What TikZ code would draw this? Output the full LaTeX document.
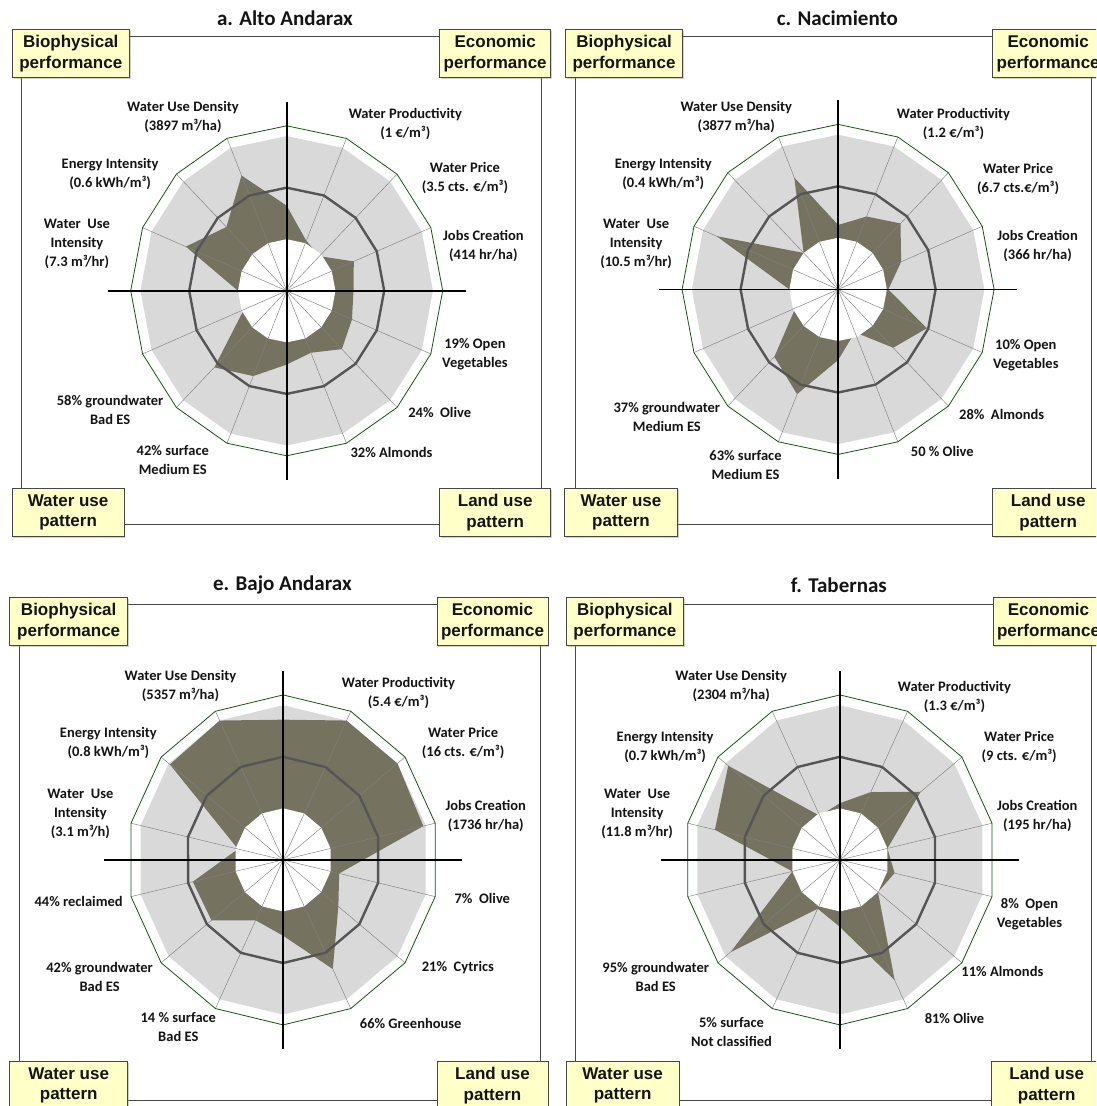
\documentclass[tikz,border=0pt]{standalone}
\usepackage{fontspec}
\setmainfont{Carlito}
\newfontfamily\boxfont{Liberation Sans}
\usetikzlibrary{shadows}

\definecolor{boxfill}{RGB}{255,255,200}
\definecolor{boxline}{RGB}{70,70,70}
\definecolor{gridgray}{RGB}{217,217,217}
\definecolor{dataolive}{RGB}{118,114,96}
\definecolor{ringgray}{RGB}{85,85,85}
\definecolor{spokegray}{RGB}{128,128,128}
\definecolor{outergreen}{RGB}{30,80,30}
\definecolor{txt}{RGB}{20,20,20}

\tikzset{
  panelbox/.style={draw=boxline, line width=0.9pt, fill=boxfill, minimum height=48pt,
    inner sep=0pt, align=center, text=txt,
    font=\boxfont\bfseries\fontsize{17}{20.5}\selectfont,
    drop shadow={shadow xshift=1.3pt, shadow yshift=-1.3pt, opacity=0.35}},
  lbl/.style={align=center, inner sep=0pt, text=txt,
    font=\bfseries\fontsize{14.5}{19}\selectfont},
  ttl/.style={inner sep=0pt, text=txt, font=\bfseries\fontsize{21}{24}\selectfont},
  frameline/.style={draw=boxline, line width=0.8pt},
}

% radar chart: #1 centre, #2 number of spokes, #3 value on the top spoke,
% #4 remaining values clockwise (scale: core 1, ring 2, band 3, rim 3.2)
\newcommand\radarplot[4]{%
  \begin{scope}[shift={#1}, x=48.75pt, y=51.56pt]
    \pgfmathsetmacro\rdstep{360/#2}
    \fill[gridgray] (90:3) \foreach \k in {1,...,#2} {-- ({90-\rdstep*\k}:3)} -- cycle;
    \fill[dataolive] (90:#3) \foreach \v [count=\k] in {#4} {-- ({90-\rdstep*\k}:\v)} -- cycle;
    \fill[white] (90:1) \foreach \k in {1,...,#2} {-- ({90-\rdstep*\k}:1)} -- cycle;
    \foreach \k in {1,...,#2} \draw[spokegray, line width=0.45pt] (0,0) -- ({90-\rdstep*\k}:3.2);
    \draw[outergreen, line width=0.8pt, line join=round]
      (90:3.2) \foreach \k in {1,...,#2} {-- ({90-\rdstep*\k}:3.2)} -- cycle;
    \draw[ringgray, line width=2.4pt, line join=round]
      (90:2) \foreach \k in {1,...,#2} {-- ({90-\rdstep*\k}:2)} -- cycle;
    \draw[black, line width=1.8pt] (0,-3.67) -- (0,3.67);
    \draw[black, line width=1.8pt] (-3.67,0) -- (3.67,0);
  \end{scope}}

\begin{document}
\begin{tikzpicture}[x=1pt, y=-1pt]
\useasboundingbox (0,0) rectangle (1096,1106);
\clip (0,0) rectangle (1096,1106);
\fill[white] (0,0) rectangle (1096,1106);

% ---------------- a. Alto Andarax ----------------
\coordinate (a-nw) at (21.7,36.7);
\coordinate (a-se) at (541.8,524.3);
\draw[frameline] (a-nw) rectangle (a-se);
\radarplot{(286.7,290.8)}{16}{1.65}{1.05,0.95,1.49,1.37,1.45,1.6,1.3,1.43,1.79,2.1,0.95,1.0,2.24,1.75,2.42}
\node[ttl] (a-title) at (284.9,18.2) {a. Alto Andarax};
\node[panelbox, minimum width=117pt] (a-bio) at (70.75,53.65) {Biophysical\\performance};
\node[panelbox, minimum width=111pt] (a-eco) at (495.2,53.65) {Economic\\performance};
\node[panelbox, minimum width=112pt] (a-wat) at (68.1,512.55) {Water use\\pattern};
\node[panelbox, minimum width=111pt] (a-land) at (495.2,512.55) {Land use\\pattern};
\node[lbl] (a-wud) at (183,117.1) {Water Use Density\\(3897 m³/ha)};
\node[lbl] (a-wp) at (405.4,123.9) {Water Productivity\\(1 €/m³)};
\node[lbl] (a-wpr) at (464.9,177.8) {Water Price\\(3.5 cts. €/m³)};
\node[lbl] (a-job) at (483.4,246.2) {Jobs Creation\\(414 hr/ha)};
\node[lbl] (a-veg) at (475,354.4) {19\% Open\\Vegetables};
\node[lbl] (a-oli) at (439.7,412.4) {24\%~~Olive};
\node[lbl] (a-alm) at (391.5,452.6) {32\% Almonds};
\node[lbl] (a-sur) at (172.8,460) {42\% surface\\Medium ES};
\node[lbl] (a-gro) at (110.1,410.2) {58\% groundwater\\Bad ES};
\node[lbl] (a-wui) at (76.9,243.6) {Water~~Use\\Intensity\\(7.3 m³/hr)};
\node[lbl] (a-ei) at (110.1,173.9) {Energy Intensity\\(0.6 kWh/m³)};

% ---------------- c. Nacimiento ----------------
\coordinate (c-nw) at (575.3,36.7);
\coordinate (c-se) at (1091.7,524.3);
\draw[frameline] (c-nw) rectangle (c-se);
\radarplot{(838.1,289.4)}{16}{1.25}{1.53,1.81,1.40,1.03,1.97,1.6,0.9,1.37,2.2,1.85,0.95,1.0,2.7,1.0,2.35}
\node[ttl] (c-title) at (837.4,18.2) {c. Nacimiento};
\node[panelbox, minimum width=117pt] (c-bio) at (624.05,53.65) {Biophysical\\performance};
\node[panelbox, minimum width=111pt] (c-eco) at (1048.2,53.65) {Economic\\performance};
\node[panelbox, minimum width=112.5pt] (c-wat) at (621,512.55) {Water use\\pattern};
\node[panelbox, minimum width=111pt] (c-land) at (1048.2,512.55) {Land use\\pattern};
\node[lbl] (c-wud) at (736.3,117.1) {Water Use Density\\(3877 m³/ha)};
\node[lbl] (c-wp) at (953.5,123.9) {Water Productivity\\(1.2 €/m³)};
\node[lbl] (c-wpr) at (1018.1,178.6) {Water Price\\(6.7 cts.€/m³)};
\node[lbl] (c-job) at (1037.6,246.2) {Jobs Creation\\(366 hr/ha)};
\node[lbl] (c-veg) at (1025.8,355.1) {10\% Open\\Vegetables};
\node[lbl] (c-alm) at (1001.7,414.9) {28\%~~Almonds};
\node[lbl] (c-oli) at (942.3,451.9) {50 \% Olive};
\node[lbl] (c-sur) at (745.5,465.4) {63\% surface\\Medium ES};
\node[lbl] (c-gro) at (666.8,417.2) {37\% groundwater\\Medium ES};
\node[lbl] (c-wui) at (636.1,243.6) {Water~~Use\\Intensity\\(10.5 m³/hr)};
\node[lbl] (c-ei) at (663.3,173.9) {Energy Intensity\\(0.4 kWh/m³)};

% ---------------- e. Bajo Andarax ----------------
\coordinate (e-nw) at (19.2,604.7);
\coordinate (e-se) at (540,1100);
\draw[frameline] (e-nw) rectangle (e-se);
\radarplot{(283.1,859.9)}{14}{2.72}{3.0,3.0,2.95,1.18,1.45,2.35,1.47,1.3,1.88,1.9,0.95,2.97,3.0}
\node[ttl] (e-title) at (282.4,585.2) {e. Bajo Andarax};
\node[panelbox, minimum width=117.8pt] (e-bio) at (68.7,621.65) {Biophysical\\performance};
\node[panelbox, minimum width=111pt] (e-eco) at (492.5,621.65) {Economic\\performance};
\node[panelbox, minimum width=117.8pt] (e-wat) at (68.7,1085.55) {Water use\\pattern};
\node[panelbox, minimum width=111pt] (e-land) at (492.5,1085.55) {Land use\\pattern};
\node[lbl] (e-wud) at (180.5,686) {Water Use Density\\(5357 m³/ha)};
\node[lbl] (e-wp) at (398.5,692.7) {Water Productivity\\(5.4 €/m³)};
\node[lbl] (e-wpr) at (463.1,743) {Water Price\\(16 cts. €/m³)};
\node[lbl] (e-job) at (485.8,816) {Jobs Creation\\(1736 hr/ha)};
\node[lbl] (e-oli) at (482.3,898) {7\%~~Olive};
\node[lbl] (e-cyt) at (457.9,967.9) {21\%~~Cytrics};
\node[lbl] (e-gre) at (410.7,1023.1) {66\% Greenhouse};
\node[lbl] (e-sur) at (178.3,1027.2) {14 \% surface\\Bad ES};
\node[lbl] (e-gro) at (99.6,976.8) {42\% groundwater\\Bad ES};
\node[lbl] (e-rec) at (78.6,901.5) {44\% reclaimed};
\node[lbl] (e-wui) at (80.4,813.4) {Water~~Use\\Intensity\\(3.1 m³/h)};
\node[lbl] (e-ei) at (108.4,743) {Energy Intensity\\(0.8 kWh/m³)};

% ---------------- f. Tabernas ----------------
\coordinate (f-nw) at (575.3,604.7);
\coordinate (f-se) at (1091.7,1100);
\draw[frameline] (f-nw) rectangle (f-se);
\radarplot{(839.9,859.9)}{14}{1.1}{1.46,2.12,1.0,1.15,1.0,2.59,1.3,1.05,2.87,1.0,2.63,2.93,0.95}
\node[ttl] (f-title) at (838.8,585.2) {f. Tabernas};
\node[panelbox, minimum width=117.4pt] (f-bio) at (624.9,621.65) {Biophysical\\performance};
\node[panelbox, minimum width=111pt] (f-eco) at (1048.5,621.65) {Economic\\performance};
\node[panelbox, minimum width=112.8pt] (f-wat) at (622.6,1085.55) {Water use\\pattern};
\node[panelbox, minimum width=111pt] (f-land) at (1046.7,1085.55) {Land use\\pattern};
\node[lbl] (f-wud) at (731.2,686) {Water Use Density\\(2304 m³/ha)};
\node[lbl] (f-wp) at (954.5,696.9) {Water Productivity\\(1.3 €/m³)};
\node[lbl] (f-wpr) at (1019.2,747) {Water Price\\(9 cts. €/m³)};
\node[lbl] (f-job) at (1037.3,816) {Jobs Creation\\(195 hr/ha)};
\node[lbl] (f-veg) at (1029.5,913.9) {8\%~~Open\\Vegetables};
\node[lbl] (f-alm) at (1002.4,971.7) {11\% Almonds};
\node[lbl] (f-oli) at (954.5,1018.6) {81\% Olive};
\node[lbl] (f-sur) at (731.5,1032.4) {5\% surface\\Not classified};
\node[lbl] (f-gro) at (655.7,976.8) {95\% groundwater\\Bad ES};
\node[lbl] (f-wui) at (637.1,813.4) {Water~~Use\\Intensity\\(11.8 m³/hr)};
\node[lbl] (f-ei) at (665.1,747) {Energy Intensity\\(0.7 kWh/m³)};
\end{tikzpicture}
\end{document}
